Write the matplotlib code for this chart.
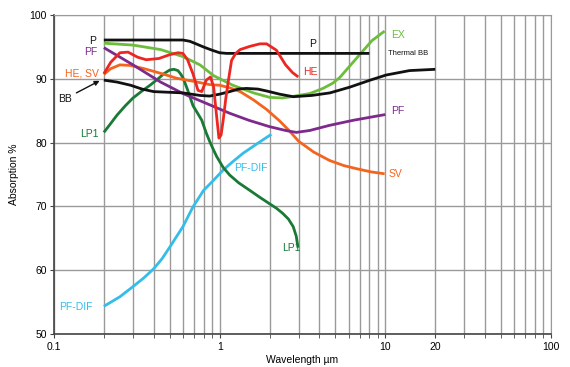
import numpy as np
import matplotlib
matplotlib.use("Agg")
import matplotlib.pyplot as plt
from matplotlib.ticker import FixedLocator, NullFormatter

plt.rcParams['font.family'] = ['Liberation Sans', 'DejaVu Sans']

# values (wavelength um, absorption %)
p_x = [0.2, 0.6, 0.66, 0.72, 0.8, 0.9, 1.0, 1.1, 8.0]
p_y = [96.1, 96.1, 95.9, 95.5, 95.0, 94.5, 94.1, 94.0, 94.0]

pf_x = [0.2, 0.3, 0.44, 0.6, 0.84, 1.15, 1.5, 2.0, 2.5, 2.9, 3.5, 4.6, 6.4, 10.0]
pf_y = [94.9, 92.2, 89.5, 87.7, 86.1, 84.6, 83.5, 82.5, 81.9, 81.6, 81.9, 82.7, 83.5, 84.4]

he_x = [0.2, 0.22, 0.25, 0.28, 0.32, 0.36, 0.43, 0.5, 0.56, 0.6, 0.64, 0.69, 0.74,
        0.78, 0.83, 0.88, 0.92, 0.96, 0.99, 1.02, 1.05, 1.09, 1.13, 1.18, 1.25,
        1.33, 1.52, 1.75, 1.92, 2.2, 2.5, 2.75, 2.98]
he_y = [90.8, 92.6, 94.1, 94.2, 93.4, 93.0, 93.2, 93.8, 94.1, 94.0, 93.0, 90.8, 88.2,
        88.0, 89.8, 90.3, 88.7, 84.0, 80.7, 81.2, 83.5, 87.0, 89.8, 92.9, 94.0,
        94.6, 95.1, 95.5, 95.5, 94.5, 92.2, 91.0, 90.3]

sv_x = [0.2, 0.22, 0.25, 0.29, 0.35, 0.45, 0.55, 0.7, 0.87, 1.0, 1.15, 1.33, 1.6,
        1.92, 2.3, 2.6, 3.0, 3.7, 4.6, 5.6, 6.7, 8.2, 9.9]
sv_y = [90.7, 91.6, 92.2, 92.1, 91.6, 90.8, 90.1, 89.6, 89.1, 89.0, 88.6, 88.0, 86.7,
        85.2, 83.4, 82.0, 80.2, 78.5, 77.2, 76.4, 75.9, 75.4, 75.1]

ex_x = [0.2, 0.3, 0.44, 0.6, 0.76, 0.92, 1.2, 1.6, 2.0, 2.4, 2.7, 3.5, 4.2, 4.8,
        5.3, 6.0, 7.0, 8.3, 9.9]
ex_y = [95.6, 95.3, 94.6, 93.5, 92.2, 90.5, 89.0, 87.8, 87.1, 87.0, 87.2, 87.7, 88.5,
        89.3, 90.2, 91.8, 93.8, 96.0, 97.5]

bb_x = [0.2, 0.24, 0.29, 0.34, 0.4, 0.6, 0.76, 0.87, 1.0, 1.15, 1.3, 1.45, 1.7,
        1.92, 2.3, 2.78, 3.6, 4.63, 6.1, 8.1, 10.1, 14.0, 20.0]
bb_y = [89.8, 89.5, 89.0, 88.4, 88.0, 87.8, 87.4, 87.3, 87.6, 88.0, 88.4, 88.5, 88.4,
        88.1, 87.6, 87.2, 87.4, 87.8, 88.7, 89.8, 90.6, 91.3, 91.5]

lp1_x = [0.2, 0.22, 0.24, 0.27, 0.3, 0.34, 0.38, 0.42, 0.46, 0.5, 0.53, 0.56, 0.58,
         0.6, 0.64, 0.69, 0.74, 0.78, 0.83, 0.87, 0.92, 0.96, 1.05, 1.15, 1.3,
         1.52, 1.75, 2.0, 2.2, 2.4, 2.6, 2.78, 2.9, 2.97]
lp1_y = [81.6, 83.0, 84.3, 85.8, 87.0, 88.1, 89.0, 89.9, 90.8, 91.4, 91.5, 91.3, 90.8,
         90.2, 88.3, 85.8, 84.5, 83.5, 81.5, 80.2, 78.8, 77.8, 76.1, 74.9, 73.7,
         72.5, 71.4, 70.4, 69.7, 68.9, 68.0, 66.8, 65.3, 63.5]

pfdif_x = [0.2, 0.25, 0.3, 0.35, 0.4, 0.45, 0.5, 0.6, 0.69, 0.8, 0.92, 1.05, 1.2,
           1.38, 1.7, 2.05]
pfdif_y = [54.3, 55.8, 57.4, 58.8, 60.2, 61.8, 63.6, 66.8, 69.9, 72.5, 74.1, 75.7,
           77.0, 78.3, 79.9, 81.3]

black = '#111111'
purple = '#7d2a8c'
red = '#ee2622'
orange = '#f4641e'
lgreen = '#6cbd3c'
dgreen = '#187a34'
blue = '#35bde9'

fig = plt.figure(figsize=(5.7, 3.67), dpi=100)
ax = fig.add_axes([0.0947, 0.0907, 0.872, 0.868])

lw = 2.0
kw = dict(lw=lw, solid_joinstyle='round', solid_capstyle='butt')
ax.plot(pfdif_x, pfdif_y, color=blue, **kw)
ax.plot(lp1_x, lp1_y, color=dgreen, **kw)
ax.plot(sv_x, sv_y, color=orange, **kw)
ax.plot(pf_x, pf_y, color=purple, **kw)
ax.plot(ex_x, ex_y, color=lgreen, **kw)
ax.plot(bb_x, bb_y, color=black, **kw)
ax.plot(p_x, p_y, color=black, **kw)
ax.plot(he_x, he_y, color=red, **kw)

ax.set_xscale('log')
ax.set_xlim(0.1, 100)
ax.set_ylim(50, 100)

major = [0.1, 1, 10, 20, 100]
minor = [m * d for d in (0.1, 1, 10) for m in range(2, 10) if m * d != 20]
ax.xaxis.set_major_locator(FixedLocator(major))
ax.xaxis.set_minor_locator(FixedLocator(minor))
ax.xaxis.set_minor_formatter(NullFormatter())
ax.set_xticklabels(['0.1', '1', '10', '20', '100'])
ax.get_xticklabels()[3].set_fontsize(6.5)
ax.set_yticks([50, 60, 70, 80, 90, 100])

ax.grid(True, which='both', axis='x', color='#9a9a9a', lw=1.0)
ax.grid(True, which='major', axis='y', color='#9a9a9a', lw=1.0)
ax.set_axisbelow(True)

for s in ('top', 'right'):
    ax.spines[s].set_color('#9a9a9a')
for s in ('left', 'bottom'):
    ax.spines[s].set_color('#444444')
    ax.spines[s].set_linewidth(1.2)
ax.tick_params(axis='both', which='both', length=3, color='#444444',
               labelsize=7.5, pad=2, top=False, right=False)
ax.tick_params(axis='x', which='major', pad=3)

ax.set_xlabel('Wavelength µm', fontsize=7.5, labelpad=2)
ax.set_ylabel('Absorption %', fontsize=7.5, labelpad=8)

fs = 7.5
# left side labels
ax.text(0.179, 95.9, 'P', color=black, fontsize=fs, ha='right', va='center')
ax.text(0.183, 94.2, 'PF', color=purple, fontsize=fs, ha='right', va='center')
ax.text(0.186, 90.9, 'HE, SV', color=orange, fontsize=fs, ha='right', va='center')
ax.text(0.129, 86.9, 'BB', color=black, fontsize=fs, ha='right', va='center')
ax.annotate('', xy=(0.195, 89.9), xytext=(0.132, 87.6),
            arrowprops=dict(arrowstyle='-|>', color=black, lw=1.0,
                            mutation_scale=7))
ax.text(0.185, 81.4, 'LP1', color=dgreen, fontsize=fs, ha='right', va='center')
ax.text(0.17, 54.2, 'PF-DIF', color=blue, fontsize=fs, ha='right', va='center')

# labels near the curve ends
ax.text(3.66, 95.4, 'P', color=black, fontsize=fs, ha='center', va='center')
ax.text(3.18, 91.0, 'HE', color=red, fontsize=fs, ha='left', va='center')
ax.text(10.9, 96.9, 'EX', color=lgreen, fontsize=fs, ha='left', va='center')
ax.text(10.4, 94.0, 'Thermal BB', color=black, fontsize=5.5, ha='left', va='center')
ax.text(10.8, 84.9, 'PF', color=purple, fontsize=fs, ha='left', va='center')
ax.text(10.4, 75.0, 'SV', color=orange, fontsize=fs, ha='left', va='center')
ax.text(1.22, 76.0, 'PF-DIF', color=blue, fontsize=fs, ha='left', va='center')
ax.text(2.72, 63.5, 'LP1', color=dgreen, fontsize=fs, ha='center', va='center')

fig.savefig('out.png', dpi=100)
